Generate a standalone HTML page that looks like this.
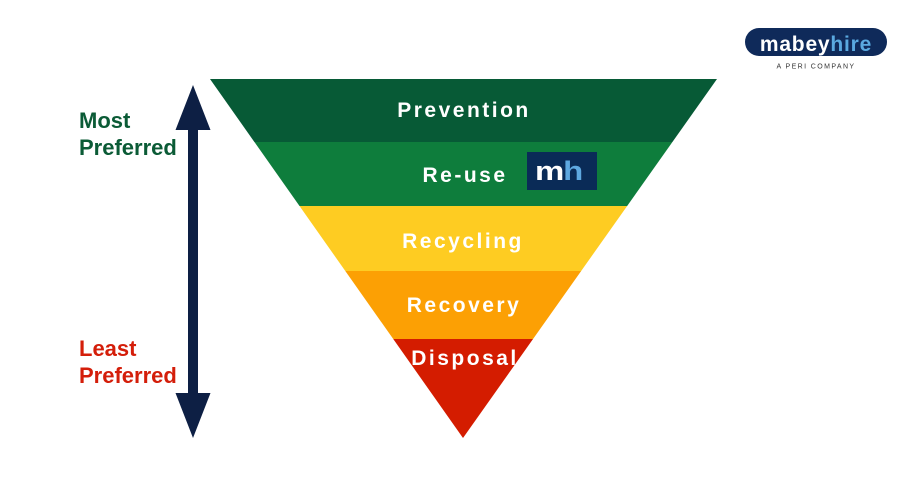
<!DOCTYPE html>
<html>
<head>
<meta charset="utf-8">
<style>
html,body{margin:0;padding:0;background:#fff;}
body{width:904px;height:492px;overflow:hidden;}
svg{display:block;font-family:"Liberation Sans",Arial,sans-serif;}
</style>
</head>
<body>
<svg width="904" height="492" viewBox="0 0 904 492" xmlns="http://www.w3.org/2000/svg">
  <defs>
    <clipPath id="tri">
      <polygon points="210,79 717,79 463,438"/>
    </clipPath>
  </defs>
  <rect width="904" height="492" fill="#fff"/>

  <!-- Pyramid bands -->
  <g clip-path="url(#tri)">
    <rect x="200" y="79" width="530" height="63" fill="#075a36"/>
    <rect x="200" y="142" width="530" height="64" fill="#0e7d3c"/>
    <rect x="200" y="206" width="530" height="65" fill="#fecc22"/>
    <rect x="200" y="271" width="530" height="68" fill="#fca004"/>
    <rect x="200" y="339" width="530" height="110" fill="#d41c00"/>
  </g>

  <!-- Pyramid labels -->
  <g fill="#fff" font-weight="bold" font-size="21" text-anchor="middle" letter-spacing="2.5">
    <text x="464" y="117">Prevention</text>
    <text x="465" y="182">Re-use</text>
    <text x="463" y="248">Recycling</text>
    <text x="464" y="312">Recovery</text>
    <text x="465" y="365">Disposal</text>
  </g>

  <!-- mh logo box -->
  <rect x="527" y="152" width="70" height="38" fill="#0a2b57"/>
  <g font-weight="bold" font-size="27" transform="translate(535,180) scale(1.22,1)">
    <text x="0" y="0" fill="#fff" letter-spacing="-1">m<tspan fill="#5ea8e0">h</tspan></text>
  </g>

  <!-- Double arrow -->
  <polygon fill="#0d1f44" points="193,85 210.5,130 198,130 198,393 210.5,393 193,438 175.5,393 188,393 188,130 175.5,130"/>

  <!-- Left labels -->
  <g font-weight="bold" font-size="22">
    <text x="79" y="128" fill="#0b5b36">Most</text>
    <text x="79" y="155" fill="#0b5b36">Preferred</text>
    <text x="79" y="356" fill="#d41e0a">Least</text>
    <text x="79" y="383" fill="#d41e0a">Preferred</text>
  </g>

  <!-- mabeyhire logo -->
  <rect x="745" y="28" width="142" height="28" rx="14" ry="14" fill="#0f2a5a"/>
  <text x="816" y="51" text-anchor="middle" font-weight="bold" font-size="21" letter-spacing="0.8" fill="#fff">mabey<tspan fill="#5aa9e0">hire</tspan></text>
  <text x="816" y="68.5" text-anchor="middle" font-size="7" letter-spacing="1.4" fill="#333">A PERI COMPANY</text>
</svg>
</body>
</html>
